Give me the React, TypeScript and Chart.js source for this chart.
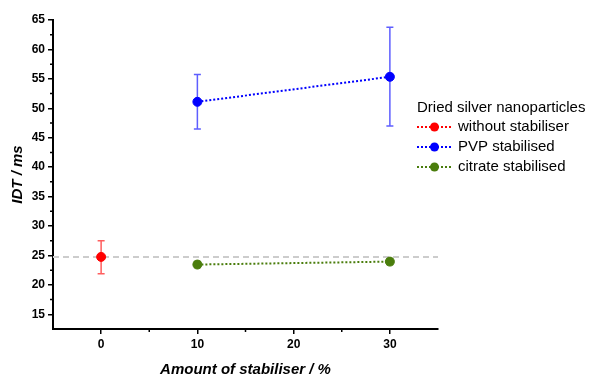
import React, { useEffect, useRef } from "react";
import { Chart, registerables } from "chart.js";

Chart.register(...registerables);

// ---- data ----
const legendTitle = "Dried silver nanoparticles";
const seriesNames = ["without stabiliser", "PVP stabilised", "citrate stabilised"];
const seriesColors = ["#ff0000", "#0000ff", "#4a7d0c"];
const errorColors = ["rgba(255,40,40,0.75)", "rgba(40,40,255,0.75)", "#4a7d0c"];

const withoutX = [0];
const withoutY = [24.75];
const withoutLow = [21.9];
const withoutHigh = [27.5];

const pvpX = [10, 30];
const pvpY = [51.1, 55.35];
const pvpLow = [46.5, 47.0];
const pvpHigh = [55.75, 63.75];

const citrateX = [10, 30];
const citrateY = [23.45, 23.95];
const citrateLow = [22.95, 23.45];
const citrateHigh = [23.95, 24.45];

const refX = [-5, 35];
const refY = [24.75, 24.75];

const xTicks = [0, 10, 20, 30];
const xMinorTicks = [5, 15, 25];
const yTicks = [15, 20, 25, 30, 35, 40, 45, 50, 55, 60, 65];
const yMinorTicks = [17.5, 22.5, 27.5, 32.5, 37.5, 42.5, 47.5, 52.5, 57.5, 62.5];

const FONT = "'Liberation Sans', Arial, sans-serif";

const toPts = (xs: number[], ys: number[]) => xs.map((x, i) => ({ x, y: ys[i] }));

export default function App() {
  const ref = useRef<HTMLCanvasElement | null>(null);
  useEffect(() => {
    document.body.style.margin = "0";
    // error bars keyed by dataset index (1..3)
    const errors: Record<number, { x: number[]; low: number[]; high: number[]; color: string }> = {
      1: { x: withoutX, low: withoutLow, high: withoutHigh, color: errorColors[0] },
      2: { x: pvpX, low: pvpLow, high: pvpHigh, color: errorColors[1] },
      3: { x: citrateX, low: citrateLow, high: citrateHigh, color: errorColors[2] },
    };
    const errorPlugin = {
      id: "errorBars",
      beforeDatasetDraw(chart: any, args: any) {
        const e = errors[args.index];
        if (!e) return;
        const ctx = chart.ctx;
        const xs = chart.scales.x;
        const ys = chart.scales.y;
        ctx.save();
        ctx.strokeStyle = e.color;
        ctx.lineWidth = 1.5;
        e.x.forEach((xv, i) => {
          const px = xs.getPixelForValue(xv);
          const pl = ys.getPixelForValue(e.low[i]);
          const ph = ys.getPixelForValue(e.high[i]);
          ctx.beginPath();
          ctx.moveTo(px, pl);
          ctx.lineTo(px, ph);
          ctx.moveTo(px - 3.5, pl);
          ctx.lineTo(px + 3.5, pl);
          ctx.moveTo(px - 3.5, ph);
          ctx.lineTo(px + 3.5, ph);
          ctx.stroke();
        });
        ctx.restore();
      },
    };
    const minorPlugin = {
      id: "minorTicks",
      afterDraw(chart: any) {
        const ctx = chart.ctx;
        const xs = chart.scales.x;
        const ys = chart.scales.y;
        const area = chart.chartArea;
        ctx.save();
        ctx.strokeStyle = "#000";
        ctx.lineWidth = 1.5;
        ctx.beginPath();
        xMinorTicks.forEach((v) => {
          const px = xs.getPixelForValue(v);
          ctx.moveTo(px, area.bottom);
          ctx.lineTo(px, area.bottom + 3);
        });
        yMinorTicks.forEach((v) => {
          const py = ys.getPixelForValue(v);
          ctx.moveTo(area.left, py);
          ctx.lineTo(area.left - 3, py);
        });
        ctx.stroke();
        ctx.restore();
      },
    };
    const legendPlugin = {
      id: "customLegend",
      afterDraw(chart: any) {
        const ctx = chart.ctx;
        ctx.save();
        ctx.font = `15px ${FONT}`;
        ctx.fillStyle = "#000";
        ctx.textBaseline = "middle";
        ctx.textAlign = "left";
        ctx.fillText(legendTitle, 417, 108);
        seriesNames.forEach((name, i) => {
          const y = 127 + i * 20;
          ctx.strokeStyle = seriesColors[i];
          ctx.lineWidth = 2;
          ctx.setLineDash([2, 2]);
          ctx.beginPath();
          ctx.moveTo(417, y);
          ctx.lineTo(452, y);
          ctx.stroke();
          ctx.setLineDash([]);
          ctx.fillStyle = seriesColors[i];
          ctx.beginPath();
          ctx.arc(434.5, y, 4.5, 0, Math.PI * 2);
          ctx.fill();
          ctx.fillStyle = "#000";
          ctx.fillText(name, 458, y);
        });
        ctx.restore();
      },
    };

    const dataset = (label: string, pts: any[], color: string) => ({
      label,
      data: pts,
      order: 0,
      borderColor: color,
      backgroundColor: color,
      borderWidth: 2,
      borderDash: [2, 2],
      pointStyle: "circle",
      pointRadius: 4.5,
      pointHoverRadius: 4.5,
      pointBorderWidth: 1,
      pointBorderColor: color,
      pointBackgroundColor: color,
      showLine: true,
    });

    const chart = new Chart(ref.current as HTMLCanvasElement, {
      type: "scatter",
      data: {
        datasets: [
          {
            label: "reference",
            data: toPts(refX, refY),
            order: 5,
            borderColor: "#cccccc",
            borderWidth: 2,
            borderDash: [6, 4],
            pointRadius: 0,
            showLine: true,
          } as any,
          dataset(seriesNames[0], toPts(withoutX, withoutY), seriesColors[0]),
          dataset(seriesNames[1], toPts(pvpX, pvpY), seriesColors[1]),
          dataset(seriesNames[2], toPts(citrateX, citrateY), seriesColors[2]),
        ],
      },
      options: {
        animation: false,
        responsive: false,
        maintainAspectRatio: false,
        layout: { padding: { left: 0, top: 20, right: 160, bottom: 0 } },
        plugins: { legend: { display: false }, tooltip: { enabled: false } },
        scales: {
          x: {
            type: "linear",
            min: -5,
            max: 35,
            afterBuildTicks: (s: any) => {
              s.ticks = xTicks.map((v) => ({ value: v }));
            },
            afterFit: (s: any) => {
              s.height = 47;
            },
            grid: { drawOnChartArea: false, drawTicks: true, tickLength: 5, color: "#000", lineWidth: 1.5 },
            border: { display: true, color: "#000", width: 2 },
            ticks: { color: "#000", font: { family: FONT, size: 12, weight: "bold" }, padding: 3, maxRotation: 0 },
            title: {
              display: true,
              text: "Amount of stabiliser / %",
              color: "#000",
              font: { family: FONT, size: 15, weight: "bold", style: "italic", lineHeight: 1 },
              padding: { top: 0, bottom: -1 },
            },
          },
          y: {
            type: "linear",
            min: 12.5,
            max: 65,
            afterBuildTicks: (s: any) => {
              s.ticks = yTicks.map((v) => ({ value: v }));
            },
            afterFit: (s: any) => {
              s.width = 53;
            },
            grid: { drawOnChartArea: false, drawTicks: true, tickLength: 5, color: "#000", lineWidth: 1.5 },
            border: { display: true, color: "#000", width: 2 },
            ticks: { color: "#000", font: { family: FONT, size: 12, weight: "bold" }, padding: 3 },
            title: {
              display: true,
              text: "IDT / ms",
              color: "#000",
              font: { family: FONT, size: 15, weight: "bold", style: "italic", lineHeight: 1 },
              padding: { top: 10, bottom: 0 },
            },
          },
        },
      } as any,
      plugins: [errorPlugin, minorPlugin, legendPlugin],
    });
    return () => chart.destroy();
  }, []);
  return (
    <div style={{ position: "absolute", left: 0, top: 0, width: 598, height: 376, background: "#fff" }}>
      <canvas ref={ref} width={598} height={376} style={{ width: 598, height: 376, display: "block" }} />
    </div>
  );
}
